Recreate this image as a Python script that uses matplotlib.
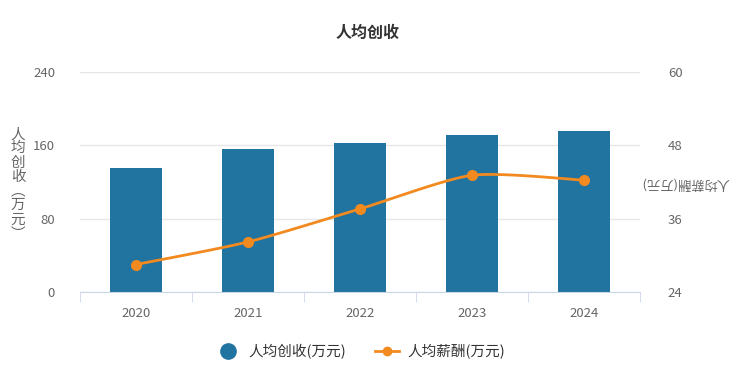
import numpy as np
import matplotlib
matplotlib.use("Agg")
import matplotlib.pyplot as plt
from matplotlib.lines import Line2D

plt.rcParams['font.family'] = ['Noto Sans CJK SC', 'DejaVu Sans']

years = ["2020", "2021", "2022", "2023", "2024"]
revenue = [135.7, 156, 163, 171.3, 175.3]   # 人均创收(万元)
salary = [28.5, 32.2, 37.6, 43.1, 42.3]     # 人均薪酬(万元)

BAR_C = "#2173a0"
LINE_C = "#f28a1f"
GRID_C = "#e6e6e6"
AXIS_C = "#ccd6eb"
TXT_C = "#666666"


def smooth(x, y, n=30):
    # catmull-rom style curve through the points, only for drawing
    x = np.asarray(x, float)
    y = np.asarray(y, float)
    px = np.concatenate([[x[0]], x, [x[-1]]])
    py = np.concatenate([[y[0]], y, [y[-1]]])
    xs, ys = [], []
    for i in range(1, len(px) - 2):
        t = np.linspace(0, 1, n)
        p0, p1, p2, p3 = [np.array([px[j], py[j]]) for j in range(i - 1, i + 3)]
        m1 = (p2 - p0) * 0.35
        m2 = (p3 - p1) * 0.35
        h00 = 2 * t**3 - 3 * t**2 + 1
        h10 = t**3 - 2 * t**2 + t
        h01 = -2 * t**3 + 3 * t**2
        h11 = t**3 - t**2
        pts = np.outer(h00, p1) + np.outer(h10, m1) + np.outer(h01, p2) + np.outer(h11, m2)
        xs.extend(pts[:, 0])
        ys.extend(pts[:, 1])
    return xs, ys


fig = plt.figure(figsize=(7.36, 3.69), dpi=100)
ax = fig.add_axes([80 / 736, 1 - 292 / 369, 560 / 736, 220 / 369])
ax2 = ax.twinx()

x = np.arange(len(years))
ax.bar(x, revenue, width=0.465, color=BAR_C, zorder=2)
ax.set_xlim(-0.5, len(years) - 0.5)
ax.set_ylim(0, 240)
ax.set_yticks([0, 80, 160, 240])
ax.set_xticks(x)
ax.set_xticklabels(years)
ax.set_xticks(np.arange(len(years) + 1) - 0.5, minor=True)
ax.yaxis.grid(True, color=GRID_C, lw=1, zorder=0)
ax.set_axisbelow(True)

sx, sy = smooth(x, salary)
ax2.plot(sx, sy, color=LINE_C, lw=2, zorder=3)
ax2.plot(x, salary, "o", color=LINE_C, ms=7, zorder=4)
ax2.set_ylim(24, 60)
ax2.set_yticks([24, 36, 48, 60])

for a in (ax, ax2):
    for s in a.spines.values():
        s.set_visible(False)
    a.tick_params(axis="y", length=0, labelsize=9.5, labelcolor=TXT_C)
ax.tick_params(axis="y", pad=18)
ax2.tick_params(axis="y", pad=20)
ax.spines["bottom"].set_visible(True)
ax.spines["bottom"].set_color(AXIS_C)
ax.tick_params(axis="x", which="major", length=0, labelsize=9.5, labelcolor=TXT_C, pad=11)
ax.tick_params(axis="x", which="minor", length=7, color=AXIS_C)

fig.text(0.5, 1 - 33 / 369, "人均创收", ha="center", va="center",
         fontsize=11.5, fontweight="bold", color="#333333")

fig.text(18 / 736, 1 - 184 / 369, "\n".join("人均创收") + "\n︵\n万\n元\n︶",
         ha="center", va="center", fontsize=10.5, color=TXT_C, linespacing=1.02)
fig.text(685 / 736, 1 - 183 / 369, "人均薪酬(万元)", ha="center", va="center",
         rotation=180, fontsize=9.5, color=TXT_C)

handles = [
    Line2D([], [], marker="o", ls="none", color=BAR_C, ms=11),
    Line2D([], [], marker="o", color=LINE_C, lw=2, ms=6),
]
fig.legend(handles, ["人均创收(万元)", "人均薪酬(万元)"], loc="center",
           bbox_to_anchor=(0.49, 1 - 352 / 369), ncol=2, frameon=False,
           fontsize=10.5, handlelength=1.6, columnspacing=2.0, handletextpad=0.6,
           labelcolor="#333333")

fig.savefig("out.png", dpi=100)
